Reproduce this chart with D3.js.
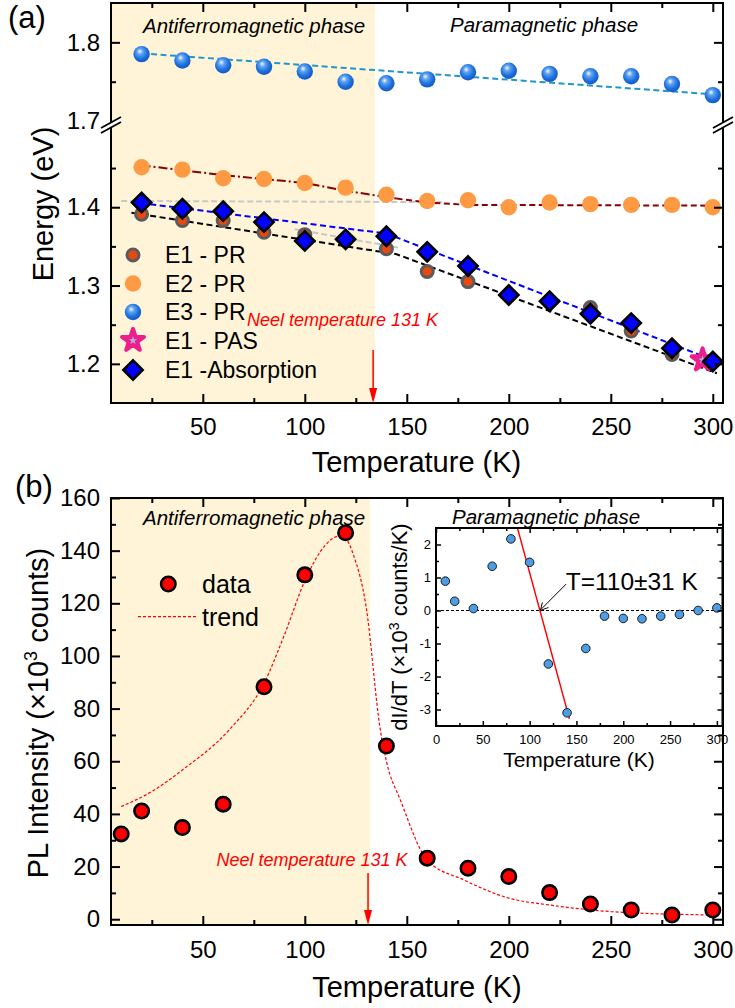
<!DOCTYPE html>
<html>

<head>
    <title>Energy and PL intensity vs temperature</title>
    <meta charset="UTF-8" />
    <style>
        body { margin: 0; background: #fff; }
        svg { display: block; font-family: "Liberation Sans", Arial, sans-serif; }
    </style>
</head>

<body>
    <div id="chart"></div>
    <script src="https://d3js.org/d3.v7.min.js"></script>
    <script>
        // ---- panel (a) : energies vs temperature ----
        const temps = [20, 40, 60, 80, 100, 120, 140, 160, 180, 200, 220, 240, 260, 280, 300];
        const e1PR = [1.391, 1.383, 1.383, 1.368, 1.365, 1.358, 1.347, 1.318, 1.305, 1.288, 1.280, 1.272, 1.242, 1.212, 1.203];
        const e2PR = [1.451, 1.448, 1.437, 1.436, 1.431, 1.425, 1.416, 1.408, 1.409, 1.400, 1.406, 1.404, 1.403, 1.403, 1.400];
        const e3PR = [1.785, 1.777, 1.771, 1.769, 1.763, 1.750, 1.748, 1.753, 1.762, 1.764, 1.760, 1.757, 1.757, 1.747, 1.733];
        const e1Abs = [1.406, 1.398, 1.395, 1.381, 1.357, 1.359, 1.363, 1.343, 1.325, 1.288, 1.280, 1.264, 1.252, 1.220, 1.203];
        const e1PAS = [[295, 1.205]];

        // trend lines [T, E]
        const e3Fit = [[20, 1.786], [300, 1.734]];
        const e2FitAFM = [[20, 1.4535], [60, 1.441], [100, 1.431], [120, 1.421], [145, 1.411]];
        const e2FitPM = [[145, 1.411], [160, 1.406], [180, 1.403], [300, 1.402]];
        const e1Fit = [[15, 1.393], [145, 1.340], [302, 1.188]];
        const e1AbsFit = [[15, 1.4068], [140, 1.3665], [300, 1.205]];
        const greyFit1 = [[10, 1.408], [168, 1.4065]];
        const greyFit2 = [[95, 1.372], [147, 1.348]];

        const legendA = ["E1 - PR", "E2 - PR", "E3 - PR", "E1 - PAS", "E1 -Absorption"];
        const xTicks = [50, 100, 150, 200, 250, 300];
        const xMinor = [25, 75, 125, 175, 225, 275];
        const yTicksA = [1.2, 1.3, 1.4, 1.7, 1.8];
        const yMinorA = [1.25, 1.35, 1.45, 1.75];

        // ---- panel (b) : PL intensity ----
        const plTemps = [10, 20, 40, 60, 80, 100, 120, 140, 160, 180, 200, 220, 240, 260, 280, 300];
        const plVals = [32.4, 41.1, 34.8, 43.7, 88.3, 130.8, 146.8, 65.8, 23.2, 19.4, 16.2, 10.1, 5.8, 3.5, 1.6, 3.5];
        const plTrend = [[10, 42.8], [25, 48.5], [40, 56.7], [63, 72], [80, 89.6], [90, 108], [100, 128.5], [110, 142],
            [116, 145.3], [120, 144.5], [124, 138], [130, 119], [137, 72], [140, 60], [147, 45], [160, 22.5],
            [178, 14.9], [200, 8], [220, 5.4], [250, 2.9], [300, 1.6]];
        const yTicksB = [0, 20, 40, 60, 80, 100, 120, 140, 160];
        const yMinorB = [10, 30, 50, 70, 90, 110, 130, 150];

        // ---- inset : dI/dT ----
        const dTemps = [10, 20, 40, 60, 80, 100, 120, 140, 160, 180, 200, 220, 240, 260, 280, 300];
        const dVals = [0.89, 0.28, 0.06, 1.34, 2.17, 1.46, -1.62, -3.1, -1.15, -0.17, -0.24, -0.25, -0.17, -0.12, 0.0, 0.08];
        const dFit = [[87, 2.5], [142.5, -3.28]];
        const xTicksI = [0, 50, 100, 150, 200, 250, 300];
        const xMinorI = [25, 75, 125, 175, 225, 275];
        const yTicksI = [-3, -2, -1, 0, 1, 2];
        const yMinorI = [-2.5, -1.5, -0.5, 0.5, 1.5];

        const neelA = 133.5, neelB = 131, afmEndA = 134.4, afmEndB = 132;
        const shade = "#fff4d7";

        let svg = d3.select("#chart").append("svg")
            .attr("width", 735)
            .attr("height", 1008);

        let x = d3.scaleLinear().domain([5, 305]).range([111, 723]);
        // broken energy axis
        let yA = d3.scaleLinear().domain([1.15, 1.505, 1.695, 1.85]).range([403, 125, 125, 3]);
        let yB = d3.scaleLinear().domain([-2.2, 160]).range([925, 498]);
        let xI = d3.scaleLinear().domain([0, 306]).range([436, 722.5]);
        let yI = d3.scaleLinear().domain([-3.5, 2.5]).range([726, 528]);

        // sphere look for E3 markers
        let grad = svg.append("defs").append("radialGradient")
            .attr("id", "ball").attr("cx", "45%").attr("cy", "40%").attr("r", "60%")
            .attr("fx", "38%").attr("fy", "32%");
        grad.append("stop").attr("offset", "0%").attr("stop-color", "#f4f9ff");
        grad.append("stop").attr("offset", "30%").attr("stop-color", "#5ea2f0");
        grad.append("stop").attr("offset", "70%").attr("stop-color", "#1d6fde");
        grad.append("stop").attr("offset", "100%").attr("stop-color", "#1558c2");

        // shaded antiferromagnetic zones
        svg.append("rect").attr("x", x(5)).attr("y", yA(1.85))
            .attr("width", x(afmEndA) - x(5)).attr("height", yA(1.15) - yA(1.85)).attr("fill", shade);
        svg.append("rect").attr("x", x(5)).attr("y", yB(160))
            .attr("width", x(afmEndB) - x(5)).attr("height", yB(-2.2) - yB(160)).attr("fill", shade);

        // frame + ticks (all inward)
        function drawAxes(xs, ys, o) {
            let g = svg.append("g");
            let [l, r] = xs.range();
            let yr = ys.range();
            let b = yr[0], t = yr[yr.length - 1];
            let tick = (axis, tx, ty, vals, len, fmt, pad) => {
                let a = g.append("g").attr("transform", `translate(${tx},${ty})`)
                    .call(axis.tickValues(vals).tickSize(-len).tickPadding(pad || 0).tickFormat(fmt || (() => "")));
                a.select(".domain").remove();
                a.attr("font-family", null).attr("font-size", o.fs);
                a.selectAll("line").attr("stroke", "#000").attr("stroke-width", o.tw);
                a.selectAll("text").attr("fill", "#000");
                return a;
            };
            tick(d3.axisBottom(xs), 0, b, o.xMaj, o.big, d => String(d), o.xPad);
            tick(d3.axisBottom(xs), 0, b, o.xMin, o.small);
            tick(d3.axisTop(xs), 0, t, o.xMaj, o.big);
            tick(d3.axisTop(xs), 0, t, o.xMin, o.small);
            let ly = tick(d3.axisLeft(ys), l, 0, o.yMaj, o.big, o.yFmt, o.yPad);
            tick(d3.axisLeft(ys), l, 0, o.yMin, o.small);
            tick(d3.axisRight(ys), r, 0, o.yMaj, o.big);
            tick(d3.axisRight(ys), r, 0, o.yMin, o.small);
            g.append("rect").attr("x", l).attr("y", t).attr("width", r - l).attr("height", b - t)
                .attr("fill", "none").attr("stroke", "#000").attr("stroke-width", o.sw);
            return { g, ly };
        }

        let line = (xs, ys) => d3.line().x(d => xs(d[0])).y(d => ys(d[1]));

        function plotLine(pts, xs, ys, color, dash, w, curve) {
            let ln = line(xs, ys);
            if (curve) ln.curve(curve);
            svg.append("path").datum(pts).attr("d", ln).attr("fill", "none")
                .attr("stroke", color).attr("stroke-width", w).attr("stroke-dasharray", dash);
        }

        function plotMarks(pts, xs, ys, mark) {
            svg.append("g").selectAll("g").data(pts).join("g")
                .attr("transform", d => `translate(${xs(d[0])},${ys(d[1])})`)
                .each(function () { mark(d3.select(this)); });
        }

        // markers
        let e1Mark = g => g.append("circle").attr("r", 6).attr("fill", "#e8490f").attr("stroke", "#5b5b5b").attr("stroke-width", 3);
        let e2Mark = g => g.append("circle").attr("r", 8.2).attr("fill", "#fd9a43");
        let e3Mark = g => g.append("circle").attr("r", 8.2).attr("fill", "url(#ball)");
        let pasMark = g => {
            g.append("path").attr("d", d3.symbol(d3.symbolStar, 150)()).attr("fill", "#ec1e8c")
                .attr("stroke", "#ec1e8c").attr("stroke-width", 4).attr("stroke-linejoin", "round");
            g.append("path").attr("d", d3.symbol(d3.symbolStar, 22)()).attr("fill", "#a9b5df");
        };
        let absMark = g => g.append("path").attr("d", d3.symbol(d3.symbolSquare, 185)())
            .attr("transform", "rotate(45)").attr("fill", "#0000ff").attr("stroke", "#000").attr("stroke-width", 2.6);
        let plMark = g => g.append("circle").attr("r", 7.2).attr("fill", "#ff0000").attr("stroke", "#000").attr("stroke-width", 2.6);
        let dMark = g => g.append("circle").attr("r", 4.3).attr("fill", "#4d9de6").attr("stroke", "#1a1a1a").attr("stroke-width", 1);

        // ================= panel (a) =================
        plotLine(greyFit1, x, yA, "#c8c8c8", "6,3", 2);
        plotLine(greyFit2, x, yA, "#c8c8c8", "6,3", 2);
        plotLine(e3Fit, x, yA, "#2196cc", "6,3.5", 2);
        plotLine(e2FitAFM, x, yA, "#8b0000", "9,3,2,3", 2);
        plotLine(e2FitPM, x, yA, "#8b0000", "6,3.5", 2);
        plotLine(e1Fit, x, yA, "#000", "6,3.5", 2);
        plotLine(e1AbsFit, x, yA, "#0000ff", "6,3.5", 2);

        plotMarks(temps.map((t, i) => [t, e2PR[i]]), x, yA, e2Mark);
        plotMarks(temps.map((t, i) => [t, e3PR[i]]), x, yA, e3Mark);
        plotMarks(temps.map((t, i) => [t, e1PR[i]]), x, yA, e1Mark);
        plotMarks(e1PAS, x, yA, pasMark);
        plotMarks(temps.map((t, i) => [t, e1Abs[i]]), x, yA, absMark);

        let axA = drawAxes(x, yA, {
            xMaj: xTicks, xMin: xMinor, yMaj: yTicksA, yMin: yMinorA, big: 9, small: 5,
            fs: 24, xPad: 15, yPad: 11, yFmt: d => d.toFixed(1), tw: 2, sw: 2
        });
        // 1.7 sits on the break: label only
        axA.g.selectAll(".tick").filter(d => d === 1.7).select("line").remove();

        // axis break marks
        [x(5), x(305)].forEach(ax => {
            let bk = svg.append("g").attr("transform", `translate(${ax},${yA(1.6)})`);
            bk.append("path").attr("d", "M-10,3 L10,-8 L10,-3 L-10,8Z").attr("fill", "#fff");
            bk.append("path").attr("d", "M-10,3 L10,-8 M-10,8 L10,-3").attr("stroke", "#000").attr("stroke-width", 1.8);
        });

        // legend (a)
        let legMarks = [e1Mark, e2Mark, e3Mark, pasMark, absMark];
        let legY = [255, 283.5, 312, 340.5, 370];
        legendA.forEach((name, i) => {
            let g = svg.append("g").attr("transform", `translate(133,${legY[i]})`);
            legMarks[i](g);
            g.append("text").attr("x", 32).attr("y", 8.3).attr("font-size", 23).text(name);
        });

        // phase labels + Neel
        svg.append("text").attr("x", 143).attr("y", 32.5).attr("font-size", 20.5).attr("font-style", "italic").text("Antiferromagnetic phase");
        svg.append("text").attr("x", 450).attr("y", 31.5).attr("font-size", 20.5).attr("font-style", "italic").text("Paramagnetic phase");
        svg.append("text").attr("x", 247).attr("y", 326).attr("font-size", 18).attr("font-style", "italic")
            .attr("fill", "#ff0000").text("Neel temperature 131 K");

        function neelArrow(xp, y0, y1) {
            svg.append("line").attr("x1", xp).attr("x2", xp).attr("y1", y0).attr("y2", y1 - 12)
                .attr("stroke", "#ff0000").attr("stroke-width", 1.5);
            svg.append("path").attr("d", d3.line()([[xp - 4, y1 - 15], [xp + 4, y1 - 15], [xp, y1]]) + "Z").attr("fill", "#ff0000");
        }
        neelArrow(x(neelA), 350, yA(1.15));

        svg.append("text").attr("x", 8).attr("y", 28).attr("font-size", 31).text("(a)");
        svg.append("text").attr("x", 416.5).attr("y", 472).attr("font-size", 29).attr("text-anchor", "middle").text("Temperature (K)");
        svg.append("text").attr("transform", "translate(53,204) rotate(-90)").attr("font-size", 29)
            .attr("text-anchor", "middle").text("Energy (eV)");

        // ================= panel (b) =================
        plotLine(plTrend, x, yB, "#ff0000", "3,2", 1.2, d3.curveMonotoneX);
        plotMarks(plTemps.map((t, i) => [t, plVals[i]]), x, yB, plMark);

        drawAxes(x, yB, {
            xMaj: xTicks, xMin: xMinor, yMaj: yTicksB, yMin: yMinorB, big: 9, small: 5,
            fs: 24, xPad: 16, yPad: 11, yFmt: d => String(d), tw: 2, sw: 2
        });

        // legend (b)
        plotMarks([[0, 0]], () => 168.3, () => 584, plMark);
        svg.append("text").attr("x", 202).attr("y", 593).attr("font-size", 25).text("data");
        svg.append("line").attr("x1", 138).attr("x2", 197).attr("y1", 616.7).attr("y2", 616.7)
            .attr("stroke", "#ff0000").attr("stroke-width", 1.2).attr("stroke-dasharray", "3,2");
        svg.append("text").attr("x", 202).attr("y", 626).attr("font-size", 25).text("trend");

        svg.append("text").attr("x", 143).attr("y", 525).attr("font-size", 20.5).attr("font-style", "italic").text("Antiferromagnetic phase");
        svg.append("text").attr("x", 452).attr("y", 523.5).attr("font-size", 20.5).attr("font-style", "italic").text("Paramagnetic phase");
        svg.append("text").attr("x", 216.5).attr("y", 866).attr("font-size", 18).attr("font-style", "italic")
            .attr("fill", "#ff0000").text("Neel temperature 131 K");
        neelArrow(x(neelB), 873, yB(-2.2));

        svg.append("text").attr("x", 15).attr("y", 497).attr("font-size", 31).text("(b)");
        svg.append("text").attr("x", 417).attr("y", 997).attr("font-size", 29).attr("text-anchor", "middle").text("Temperature (K)");
        let tb = svg.append("text").attr("transform", "translate(48,713) rotate(-90)").attr("font-size", 29).attr("text-anchor", "middle");
        tb.append("tspan").text("PL Intensity (\u00d710");
        tb.append("tspan").attr("dy", -11).attr("font-size", 18).text("3");
        tb.append("tspan").attr("dy", 11).text(" counts)");

        // ================= inset =================
        svg.append("rect").attr("x", xI(0)).attr("y", yI(2.5)).attr("width", xI(306) - xI(0))
            .attr("height", yI(-3.5) - yI(2.5)).attr("fill", "#fff");
        svg.append("line").attr("x1", xI(0)).attr("x2", xI(306)).attr("y1", yI(0)).attr("y2", yI(0))
            .attr("stroke", "#000").attr("stroke-width", 1).attr("stroke-dasharray", "3,2");
        plotLine(dFit, xI, yI, "#ff0000", null, 1.4);
        plotMarks(dTemps.map((t, i) => [t, dVals[i]]), xI, yI, dMark);

        drawAxes(xI, yI, {
            xMaj: xTicksI, xMin: xMinorI, yMaj: yTicksI, yMin: yMinorI, big: 5, small: 3,
            fs: 13, xPad: 9, yPad: 5, yFmt: d => String(d), tw: 1.5, sw: 2
        });

        // T=110±31 K annotation
        svg.append("line").attr("x1", xI(139)).attr("y1", yI(0.8)).attr("x2", xI(112)).attr("y2", yI(0.03))
            .attr("stroke", "#000").attr("stroke-width", 1);
        let tip = [xI(111.5), yI(0)];
        svg.append("path").attr("d", d3.line()([[tip[0] + 2, tip[1] - 8], tip, [tip[0] + 8, tip[1] - 3]]))
            .attr("fill", "none").attr("stroke", "#000").attr("stroke-width", 1);
        svg.append("text").attr("x", xI(138.5)).attr("y", 590).attr("font-size", 24.5).text("T=110\u00b131 K");

        svg.append("text").attr("x", 579).attr("y", 767).attr("font-size", 21).attr("text-anchor", "middle").text("Temperature (K)");
        let ti = svg.append("text").attr("transform", "translate(407,627) rotate(-90)").attr("font-size", 22).attr("text-anchor", "middle");
        ti.append("tspan").text("dI/dT (\u00d710");
        ti.append("tspan").attr("dy", -8).attr("font-size", 14).text("3");
        ti.append("tspan").attr("dy", 8).text(" counts/K)");
    </script>
</body>

</html>
